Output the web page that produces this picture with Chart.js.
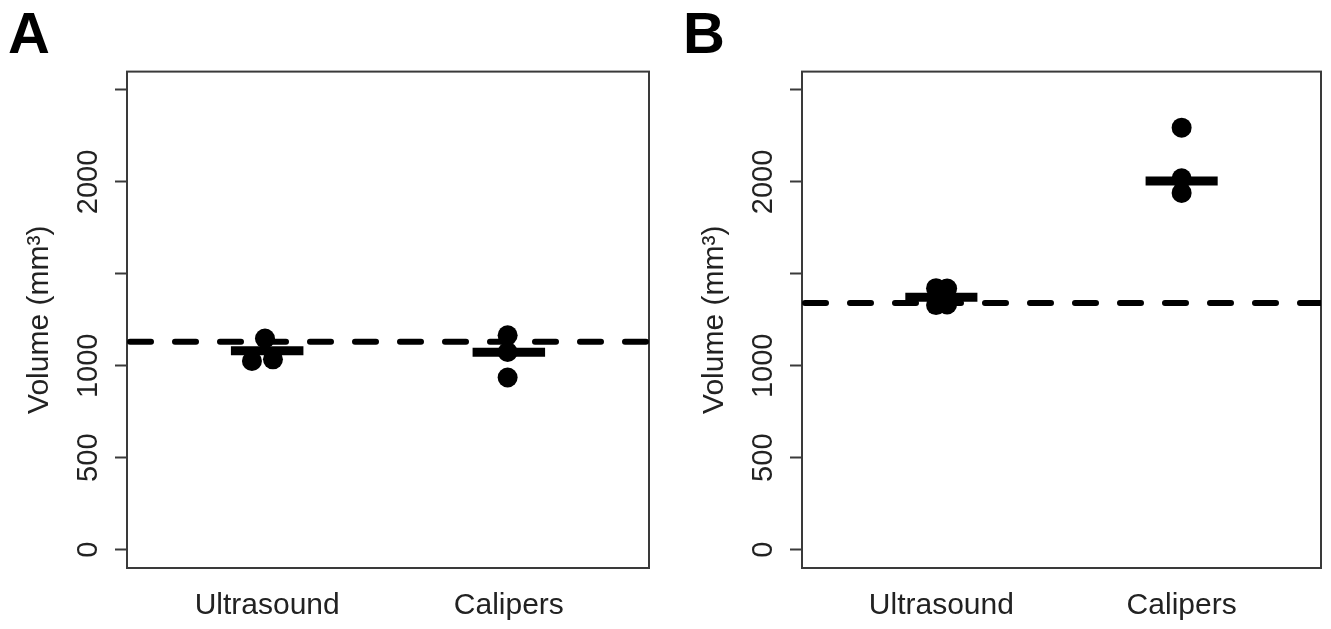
<!DOCTYPE html>
<html>
<head>
<meta charset="utf-8">
<script src="https://cdn.jsdelivr.net/npm/chart.js@4.4.1/dist/chart.umd.min.js"></script>
<style>
  html, body { margin: 0; padding: 0; background: #fff; }
  body { width: 1331px; height: 629px; position: relative; overflow: hidden; }
  canvas { position: absolute; top: 0; }
  #panelA { left: 0; }
  #panelB { left: 675px; }
</style>
</head>
<body>
<canvas id="panelA" width="665" height="629"></canvas>
<canvas id="panelB" width="656" height="629"></canvas>
<script>
// groups on the x axis (positions 1 and 2)
const categories = ["Ultrasound", "Calipers"];
const yTickValues = [0, 500, 1000, 1500, 2000, 2500];
const yTickLabels = ["0", "500", "1000", "", "2000", ""];

// panel A - individual measurements (x = jittered group position)
const aUltrasoundX = [0.991, 0.937, 1.024];
const aUltrasound = [1148, 1026, 1035];
const aCalipersX = [1.995, 1.995, 1.995];
const aCalipers = [1166, 1075, 936];
const aCentre = [1081, 1073];      // horizontal bar per group
const aReference = 1130;           // dashed line

// panel B
const bUltrasoundX = [0.978, 1.024, 0.978, 1.024];
const bUltrasound = [1422, 1420, 1330, 1333];
const bCalipersX = [2, 2, 2];
const bCalipers = [2295, 2020, 1940];
const bCentre = [1373, 2005];
const bReference = 1342;

const FONT = "'Liberation Sans', Arial, Helvetica, sans-serif";
const INK = "#222";
const FRAME = "#3a3a3a";
const X_MIN = 0.42, X_MAX = 2.58;
const Y_MIN = -100, Y_MAX = 2600;
const BAR_HALF = 0.15;

// full box round the plot area, like base R
const framePlugin = {
    id: "frame",
    beforeDatasetsDraw(chart) {
        const { ctx, chartArea: a } = chart;
        ctx.save();
        ctx.strokeStyle = FRAME;
        ctx.lineWidth = 2;
        ctx.strokeRect(a.left, a.top, a.right - a.left, a.bottom - a.top);
        ctx.restore();
    },
};

function makePanel(canvasId, letter, rightPad, groupX, groupY, centres, reference) {
    const datasets = [];

    groupY.forEach((ys, g) => {
        datasets.push({
            data: ys.map((y, k) => ({ x: groupX[g][k], y })),
            showLine: false,
            pointRadius: 10,
            pointBackgroundColor: "#000",
            pointBorderWidth: 0,
        });
    });

    centres.forEach((c, i) => {
        datasets.push({
            data: [{ x: i + 1 - BAR_HALF, y: c }, { x: i + 1 + BAR_HALF, y: c }],
            showLine: true,
            borderColor: "#000",
            borderWidth: 9,
            borderCapStyle: "butt",
            pointRadius: 0,
            fill: false,
        });
    });

    datasets.push({
        data: [{ x: X_MIN, y: reference }, { x: X_MAX, y: reference }],
        showLine: true,
        borderColor: "#000",
        borderWidth: 6,
        borderDash: [21, 24],
        borderDashOffset: -3,
        borderCapStyle: "round",
        pointRadius: 0,
        fill: false,
    });

    return new Chart(document.getElementById(canvasId), {
        type: "scatter",
        data: { datasets },
        plugins: [framePlugin],
        options: {
            responsive: false,
            animation: false,
            events: [],
            layout: { padding: { left: 8, right: rightPad, top: 0, bottom: 0 } },
            plugins: {
                legend: { display: false },
                tooltip: { enabled: false },
                title: {
                    display: true,
                    text: letter,
                    align: "start",
                    color: "#000",
                    font: { family: FONT, size: 58, weight: "bold" },
                    padding: { top: 2, bottom: 0 },
                },
            },
            scales: {
                x: {
                    type: "linear",
                    min: X_MIN,
                    max: X_MAX,
                    afterBuildTicks: s => { s.ticks = categories.map((c, i) => ({ value: i + 1 })); },
                    afterFit: s => { s.height = 61; },
                    grid: { display: false, drawTicks: false },
                    border: { display: false },
                    ticks: {
                        autoSkip: false,
                        maxRotation: 0,
                        padding: 20,
                        color: INK,
                        font: { family: FONT, size: 30 },
                        callback: v => categories[v - 1],
                    },
                },
                y: {
                    type: "linear",
                    min: Y_MIN,
                    max: Y_MAX,
                    afterBuildTicks: s => { s.ticks = yTickValues.map(v => ({ value: v })); },
                    afterFit: s => { s.width = 119; },
                    grid: {
                        drawOnChartArea: false,
                        drawTicks: true,
                        tickLength: 12,
                        tickWidth: 2,
                        color: FRAME,
                    },
                    border: { display: false },
                    ticks: {
                        autoSkip: false,
                        minRotation: 90,
                        maxRotation: 90,
                        crossAlign: "center",
                        padding: -6,
                        color: INK,
                        font: { family: FONT, size: 29 },
                        callback: v => yTickLabels[yTickValues.indexOf(v)],
                    },
                    title: {
                        display: true,
                        text: "Volume (mm³)",
                        color: INK,
                        font: { family: FONT, size: 30 },
                        padding: { top: 14, bottom: 0 },
                    },
                },
            },
        },
    });
}

makePanel("panelA", "A", 16, [aUltrasoundX, aCalipersX], [aUltrasound, aCalipers], aCentre, aReference);
makePanel("panelB", "B", 9, [bUltrasoundX, bCalipersX], [bUltrasound, bCalipers], bCentre, bReference);
</script>
</body>
</html>
